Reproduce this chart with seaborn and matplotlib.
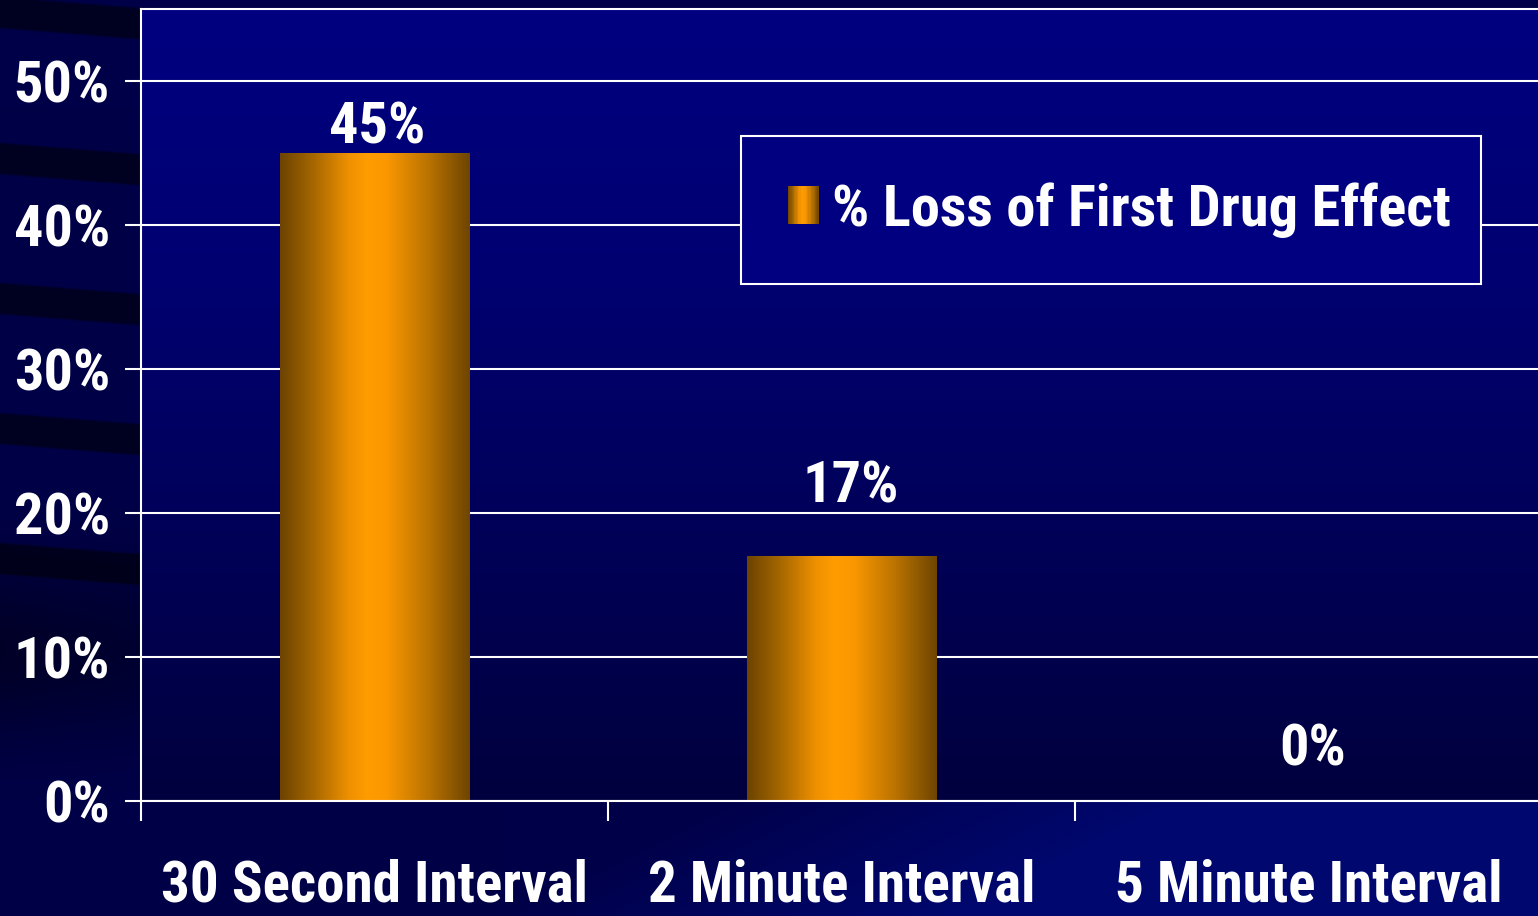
import numpy as np
import matplotlib
matplotlib.use("Agg")
import matplotlib.pyplot as plt
import seaborn as sns
from matplotlib.colors import LinearSegmentedColormap
from matplotlib.legend_handler import HandlerBase
from matplotlib.patches import Rectangle

# ---- data ----
categories = ["30 Second Interval", "2 Minute Interval", "5 Minute Interval"]
loss_values = [0.45, 0.17, 0.0]
value_labels = ["45%", "17%", "0%"]
y_ticks = [0.0, 0.1, 0.2, 0.3, 0.4, 0.5]
y_tick_labels = ["0%", "10%", "20%", "30%", "40%", "50%"]
series_name = "% Loss of First Drug Effect"

# value-label offsets (pixels) relative to the top of each bar
label_offsets_px = [(3, 9), (9, 54), (4, 36)]

sns.set_theme(style="white")
plt.rcParams["font.family"] = ["Roboto Condensed", "PT Sans Narrow", "Archivo Narrow",
                               "Open Sans Condensed", "IBM Plex Sans Condensed",
                               "DejaVu Sans"]
plt.rcParams["font.weight"] = "bold"

W, H, DPI = 1538, 916, 100
PT = 72.0 / DPI  # points per pixel
FS = 42          # main text size
fig = plt.figure(figsize=(W / DPI, H / DPI), dpi=DPI)
fig.patch.set_facecolor("#000044")

# ---- slide background: dark navy with swept bands ----
bg_ax = fig.add_axes([0, 0, 1, 1], zorder=-10)
bg_ax.set_axis_off()
yy, xx = np.mgrid[0:H, 0:W].astype(float)
bg = np.ones((H, W, 3)) * (np.array([0, 0, 0x48]) / 255)
# brighter diagonal sweep toward the lower right
w = np.clip((xx - 650) / 500 + (yy - 830) / 250, 0, 1)[..., None]
bright = np.array([0, 0x08, 0x70]) / 255
bg = bg * (1 - w) + bright * w
# dark ribbons crossing the left margin
for c in [12, 158, 298, 428, 558]:
    center = c + 0.08 * xx
    dist = np.abs(yy - center)
    band = np.clip(1 - (dist - 14) / 3, 0, 1)[..., None]
    bg = bg * (1 - 0.55 * band)
# darker pool in the lower-left corner
pool = np.exp(-(((yy - 650) / 90) ** 2)) * np.clip(1 - xx / 500, 0, 1)
bg = bg * (1 - 0.45 * pool[..., None])
bg_ax.imshow(bg, extent=[0, 1, 0, 1], aspect="auto", origin="upper")
bg_ax.set_xlim(0, 1)
bg_ax.set_ylim(0, 1)

# ---- main axes ----
ax = fig.add_axes([141 / W, 1 - 801 / H, 1401 / W, (801 - 9) / H])
ax.set_facecolor("none")

bar_cmap = LinearSegmentedColormap.from_list(
    "cylinder",
    [(0.0, "#6c4300"), (0.18, "#a86800"), (0.36, "#ee9000"),
     (0.46, "#ff9c00"), (0.56, "#fb9800"), (0.78, "#bb7300"), (1.0, "#6e4500")],
)

sns.barplot(x=categories, y=loss_values, ax=ax, width=0.405,
            color="#ff9900", edgecolor="none", linewidth=0, zorder=2)

# plot-area gradient, bright navy at top fading darker toward the baseline
plot_grad = np.linspace(0, 1, 256)[:, None]
plot_cmap = LinearSegmentedColormap.from_list(
    "plotbg", [(0.0, "#000080"), (0.35, "#000070"), (1.0, "#00003e")])
ax.imshow(plot_grad, cmap=plot_cmap, extent=[-0.5, 2.5, 0, 0.55], origin="upper",
          aspect="auto", zorder=-1, interpolation="bilinear")

# cylinder shading on each bar
hgrad = np.linspace(0, 1, 256)[None, :]
for patch in ax.patches:
    x0, y0 = patch.get_x(), patch.get_y()
    bw, bh = patch.get_width(), patch.get_height()
    if bh <= 0:
        continue
    im = ax.imshow(hgrad, cmap=bar_cmap, extent=[x0, x0 + bw, y0, y0 + bh],
                   aspect="auto", zorder=2.5, interpolation="bilinear")
    im.set_clip_path(patch)
ax.set_xlim(-0.5, 2.5)
ax.set_ylim(0, 0.55)

# gridlines and frame
ax.set_axisbelow(True)
ax.yaxis.grid(True, color="white", linewidth=1.5)
ax.xaxis.grid(False)
for side in ["left", "bottom", "top"]:
    ax.spines[side].set_visible(True)
    ax.spines[side].set_color("white")
    ax.spines[side].set_linewidth(1.5)
ax.spines["right"].set_visible(False)

ax.set_yticks(y_ticks, labels=y_tick_labels)
ax.set_xticks([0, 1, 2], labels=categories)
ax.set_xticks([-0.5, 0.5, 1.5, 2.5], minor=True)
ax.tick_params(axis="y", which="major", left=True, length=16 * PT, width=1.5,
               color="white", direction="out", pad=15 * PT,
               labelsize=FS, labelcolor="white")
ax.tick_params(axis="x", which="major", bottom=True, length=0,
               pad=57 * PT, labelsize=FS - 1, labelcolor="white")
ax.tick_params(axis="x", which="minor", bottom=True, length=20 * PT, width=1.5,
               color="white", direction="out")
for lbl in ax.get_xticklabels() + ax.get_yticklabels():
    lbl.set_fontweight("bold")
ax.set_xlabel("")
ax.set_ylabel("")

# value labels
for i, (v, txt) in enumerate(zip(loss_values, value_labels)):
    dx, dy = label_offsets_px[i]
    ax.annotate(txt, xy=(i, v), xytext=(dx * PT, dy * PT),
                textcoords="offset points", ha="center", va="baseline",
                fontsize=FS, fontweight="bold", color="white", zorder=5)


# legend with a shaded swatch
class GradientSwatch(HandlerBase):
    def create_artists(self, legend, orig_handle, xdescent, ydescent,
                       width, height, fontsize, trans):
        n = 24
        arts = []
        for k in range(n):
            arts.append(Rectangle((-xdescent + width * k / n, -ydescent),
                                  width / n * 1.05, height,
                                  facecolor=bar_cmap((k + 0.5) / n),
                                  edgecolor="none", transform=trans))
        return arts


proxy = Rectangle((0, 0), 1, 1)
fs_px = FS / PT
leg = ax.legend(
    handles=[proxy], labels=[series_name],
    handler_map={Rectangle: GradientSwatch()},
    loc="center left",
    bbox_to_anchor=((741 - 141) / 1401, (801 - 285) / 792,
                    (1481 - 741) / 1401, 150 / 792),
    mode="expand", fontsize=FS, frameon=True, fancybox=False,
    framealpha=1, facecolor="#000080", edgecolor="white",
    borderpad=0.8, borderaxespad=0,
    handlelength=31 / fs_px, handleheight=36 / fs_px,
    handletextpad=13 / fs_px,
    prop={"weight": "bold", "size": FS},
)
leg.get_frame().set_linewidth(1.5)
for txt in leg.get_texts():
    txt.set_color("white")

fig.savefig("out.png", dpi=DPI, facecolor=fig.get_facecolor())
